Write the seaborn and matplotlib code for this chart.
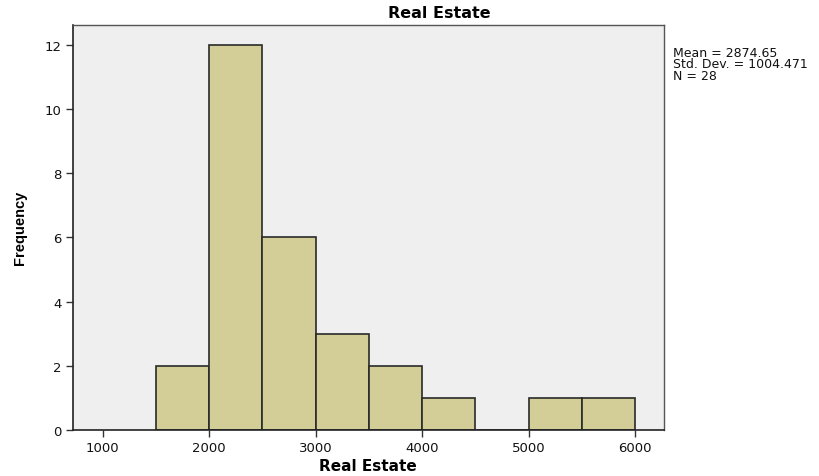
import numpy as np
import pandas as pd
import matplotlib.pyplot as plt
import seaborn as sns

# Bin edges and counts
bin_edges = [1500, 2000, 2500, 3000, 3500, 4000, 4500, 5000, 5500, 6000]
bin_counts = [2, 12, 6, 3, 2, 1, 0, 1, 1]
x_ticks = [1000, 2000, 3000, 4000, 5000, 6000]
y_ticks = [0, 2, 4, 6, 8, 10, 12]
stats_lines = ["Mean = 2874.65", "Std. Dev. = 1004.471", "N = 28"]

bin_mids = [(a + b) / 2 for a, b in zip(bin_edges[:-1], bin_edges[1:])]
df = pd.DataFrame({"real_estate": bin_mids, "count": bin_counts})

sns.set_style("white")
plt.rcParams['font.family'] = ['DejaVu Sans']

fig = plt.figure(figsize=(8.19, 4.77), dpi=100)
ax = fig.add_axes([73 / 819, 46 / 477, 591 / 819, 405.5 / 477])
ax.set_facecolor("#efefef")

sns.histplot(data=df, x="real_estate", weights="count", bins=bin_edges,
             color="#d3ce97", edgecolor="#2a2a2a", linewidth=1.2, alpha=1, ax=ax)

ax.set_xlim(721, 6272)
ax.set_ylim(0, 12.63)
ax.set_xticks(x_ticks)
ax.set_yticks(y_ticks)
ax.tick_params(axis="both", direction="out", length=5, width=1, color="#333333",
               labelsize=9.5, labelcolor="#111111", bottom=True, left=True, pad=3)

for side in ["left", "bottom"]:
    ax.spines[side].set_color("#222222")
    ax.spines[side].set_linewidth(1.2)
for side in ["top", "right"]:
    ax.spines[side].set_color("#555555")
    ax.spines[side].set_linewidth(1)

ax.set_xlabel("")
ax.set_ylabel("")
fig.text(368 / 819, 1 - 467 / 477, "Real Estate", ha="center", va="center",
         fontsize=11, fontweight="bold", color="black")
fig.text(20 / 819, 1 - 228 / 477, "Frequency", rotation=90, ha="center", va="center",
         fontsize=10.5, fontweight="bold", color="black",
         family=["Liberation Sans", "DejaVu Sans"])

fig.text(439 / 819, 1 - 14 / 477, "Real Estate", ha="center", va="center",
         fontsize=11.5, fontweight="bold", color="black")

fig.text(673 / 819, 1 - 47 / 477, "\n".join(stats_lines), ha="left", va="top",
         fontsize=9, linespacing=0.85, color="#111111")

fig.savefig("out.png", dpi=100)
